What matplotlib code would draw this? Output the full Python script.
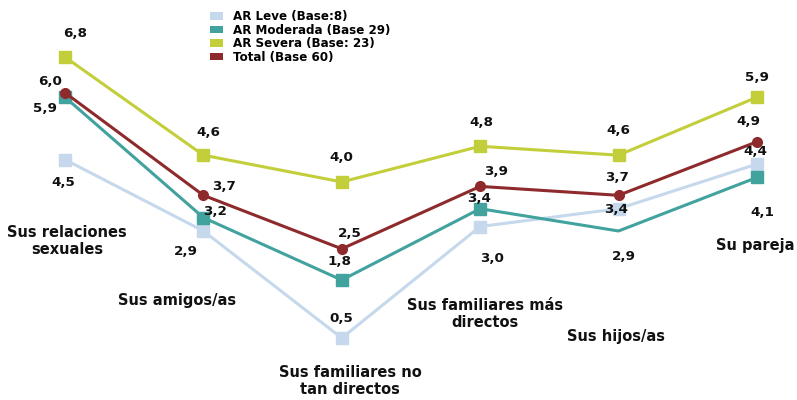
import matplotlib.pyplot as plt
from matplotlib.patches import Patch

categories = ["Sus relaciones\nsexuales", "Sus amigos/as", "Sus familiares no\ntan directos",
              "Sus familiares más\ndirectos", "Sus hijos/as", "Su pareja"]
leve = [4.5, 2.9, 0.5, 3.0, 3.4, 4.4]
moderada = [5.9, 3.2, 1.8, 3.4, 2.9, 4.1]
severa = [6.8, 4.6, 4.0, 4.8, 4.6, 5.9]
total = [6.0, 3.7, 2.5, 3.9, 3.7, 4.9]
series_names = ["AR Leve (Base:8)", "AR Moderada (Base 29)", "AR Severa (Base: 23)", "Total (Base 60)"]

colors = ["#c5d8ec", "#41a29e", "#c2cf3a", "#8e2a2c"]

# label offsets in pixels (dx, dy with y going up)
offsets = {
    "leve": [(-2, -23), (-18, -21), (0, 20), (12, -32), (-2, -1), (-2, 13)],
    "moderada": [(-20, -11), (12, 6), (-2, 19), (-1, 10), (5, -26), (5, -35)],
    "severa": [(10, 24), (5, 23), (0, 24), (1, 24), (0, 25), (0, 20)],
    "total": [(-15, 11), (21, 9), (8, 15), (16, 15), (-1, 18), (-8, 20)],
}

fig = plt.figure(figsize=(7.97, 4.0), dpi=100)
ax = fig.add_axes([0, 0, 1, 1])
ax.set_xlim(-0.47, 5.29)
ax.set_ylim(-0.89, 8.08)
ax.axis("off")

x = list(range(len(categories)))
ax.plot(x, leve, color=colors[0], lw=2.2, marker="s", ms=8, zorder=2)
ax.plot(x, moderada, color=colors[1], lw=2.2, marker="s", ms=8,
        markevery=[0, 1, 2, 3, 5], zorder=3)
ax.plot(x, severa, color=colors[2], lw=2.2, marker="s", ms=8, zorder=4)
ax.plot(x, total, color=colors[3], lw=2.2, marker="o", ms=7, zorder=5)

for key, vals in [("leve", leve), ("moderada", moderada), ("severa", severa), ("total", total)]:
    for i, v in enumerate(vals):
        ax.annotate(f"{v:.1f}".replace(".", ","), (i, v), xytext=offsets[key][i],
                    textcoords="offset pixels", ha="center", va="center",
                    fontsize=9.7, fontweight="bold", color="#111111", zorder=6)

# category label positions in figure pixels (x, y from top)
cat_pos = [(67, 241), (177, 300), (350, 381), (485, 314), (616, 336), (755, 245)]
for label, (px, py) in zip(categories, cat_pos):
    fig.text(px / 797, 1 - py / 400, label, ha="center", va="center",
             fontsize=10.5, fontweight="bold", color="#111111", linespacing=1.15)

handles = [Patch(facecolor=c, edgecolor="none") for c in colors]
leg = fig.legend(handles, series_names, loc="upper left", bbox_to_anchor=(204 / 797, 1 - 4 / 400),
                 frameon=False, prop={"size": 8.6, "weight": "bold"}, handlelength=1.1,
                 handleheight=0.6, handletextpad=0.8, labelspacing=0.05, borderpad=0)

fig.savefig("out.png", dpi=100)
